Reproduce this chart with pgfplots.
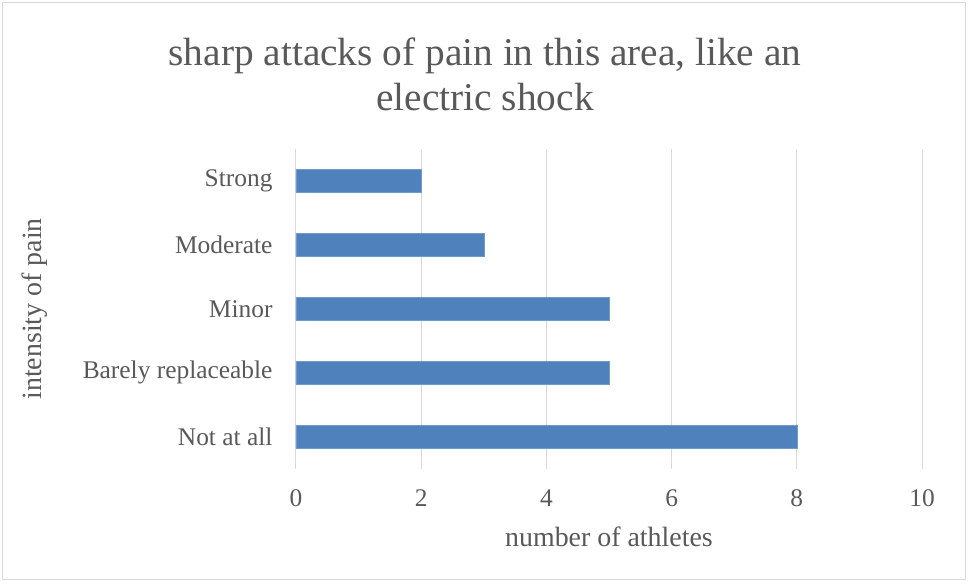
\documentclass[border=0pt]{standalone}
\usepackage{pgfplots}
\pgfplotsset{compat=1.18}
\usepackage{fontspec}
\setmainfont{Liberation Serif}
\definecolor{txtgray}{HTML}{595959}
\definecolor{gridgray}{HTML}{D9D9D9}
\definecolor{barblue}{HTML}{4F81BD}
\begin{document}
\begin{tikzpicture}[x=1bp,y=1bp]
\useasboundingbox (-296,-117) rectangle (672,467);
\draw[gridgray, line width=1bp] (-293,-113) rectangle (669,464);
\node[txtgray, font=\fontsize{39.5}{45}\selectfont, align=center] at (189,392.5)
  {sharp attacks of pain in this area, like an\\electric shock};
\begin{axis}[
  at={(0,47)}, anchor=origin,
  scale only axis, width=626bp, height=320bp,
  xbar, bar width=23bp,
  xmin=0, xmax=10, ymin=-0.5, ymax=4.5,
  xtick={0,2,...,10}, ytick={0,1,2,3,4},
  yticklabels={Not at all, Barely replaceable, Minor, Moderate, Strong},
  /pgf/number format/assume math mode=true,
  axis line style={draw=none},
  axis x line*=bottom, axis y line*=left,
  xmajorgrids, grid style={gridgray, line width=1bp},
  major tick length=0pt,
  tick label style={txtgray, font=\fontsize{25.5}{28}\selectfont},
  xticklabel style={yshift=-17bp},
  yticklabel style={xshift=-20bp},
  xlabel={number of athletes}, ylabel={intensity of pain},
  every axis y label/.style={at={(axis description cs:0,0.5)}, xshift=-261bp, rotate=90, anchor=center, txtgray, font=\fontsize{28}{32}\selectfont},
  every axis x label/.style={at={(axis description cs:0.5,0)}, yshift=-68bp, anchor=center, txtgray, font=\fontsize{28}{32}\selectfont},
]
\addplot[fill=barblue, draw=barblue!80!white] coordinates {(8,0) (5,1) (5,2) (3,3) (2,4)};
\end{axis}
\end{tikzpicture}
\end{document}
